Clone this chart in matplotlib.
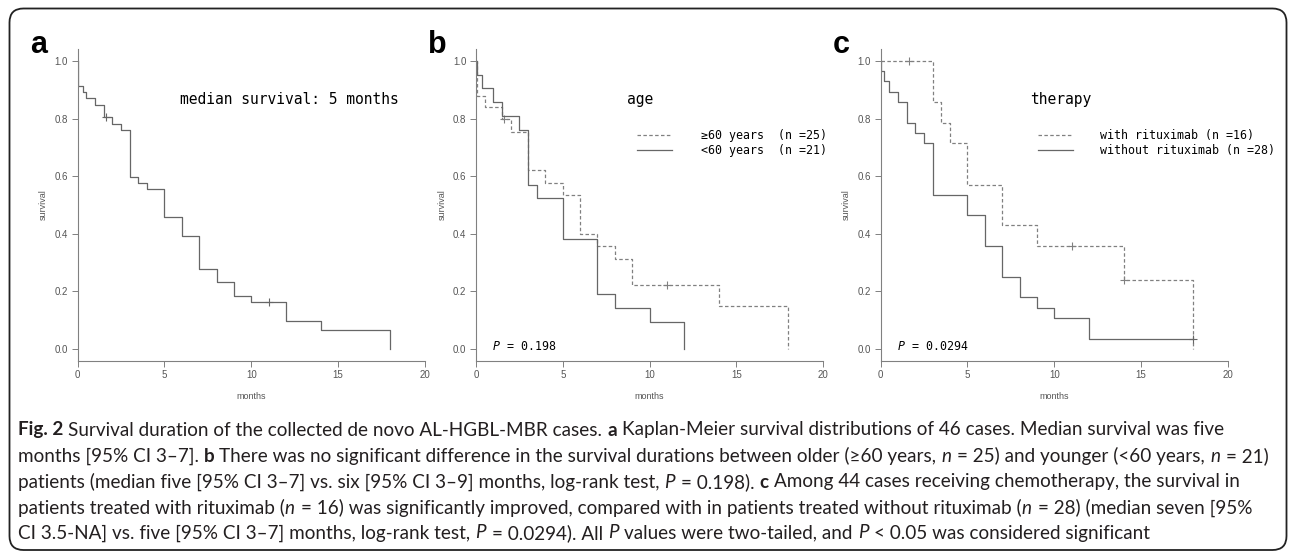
import numpy as np
import matplotlib.pyplot as plt
from matplotlib.patches import FancyBboxPatch

W, H = 1293, 553

# (a) all cases, n = 46
months_a = [0, 0.05, 0.3, 0.5, 1.0, 1.5, 2.0, 2.5, 3.0, 3.5, 4.0, 5.0, 6.0, 7.0, 8.0, 9.0, 10.0, 12.0, 14.0, 18.0]
surv_a = [1.0, 0.913, 0.891, 0.870, 0.848, 0.804, 0.783, 0.761, 0.598, 0.576, 0.554, 0.457, 0.391, 0.277, 0.231, 0.185, 0.162, 0.097, 0.065, 0.0]
cens_a = [1.63, 11.0]
end_a = 18.0

# (b) age >= 60 (dashed) and < 60 (solid)
months_old = [0, 0.05, 0.5, 1.5, 2.0, 3.0, 4.0, 5.0, 6.0, 7.0, 8.0, 9.0, 14.0, 18.0]
surv_old = [1.0, 0.88, 0.84, 0.80, 0.755, 0.62, 0.578, 0.533, 0.40, 0.356, 0.311, 0.222, 0.148, 0.0]
cens_old = [1.63, 11.0]
end_old = 18.0
months_young = [0, 0.05, 0.33, 1.0, 1.5, 2.5, 3.0, 3.5, 5.0, 7.0, 8.0, 10.0, 12.0]
surv_young = [1.0, 0.952, 0.905, 0.857, 0.810, 0.762, 0.571, 0.524, 0.381, 0.190, 0.143, 0.095, 0.0]
cens_young = []
end_young = 12.0

# (c) with rituximab (dashed) and without (solid)
months_rit = [0, 3.0, 3.5, 4.0, 5.0, 7.0, 9.0, 14.0, 18.0]
surv_rit = [1.0, 0.857, 0.786, 0.714, 0.571, 0.429, 0.357, 0.238, 0.0]
cens_rit = [1.65, 11.0, 14.0]
end_rit = 18.0
months_norit = [0, 0.04, 0.2, 0.5, 1.0, 1.5, 2.0, 2.5, 3.0, 5.0, 6.0, 7.0, 8.0, 9.0, 10.0, 12.0]
surv_norit = [1.0, 0.964, 0.929, 0.893, 0.857, 0.786, 0.750, 0.714, 0.536, 0.464, 0.357, 0.250, 0.179, 0.143, 0.107, 0.036]
cens_norit = [18.0]
end_norit = 18.0

x_ticks = [0, 5, 10, 15, 20]
y_ticks = [0.0, 0.2, 0.4, 0.6, 0.8, 1.0]

MONO = 'DejaVu Sans Mono'
SOLID = '#666666'
DASH = '#808080'
DASHES = (0, (2.8, 1.9))


def km(ax, t, s, end, cens, color, ls, label=None):
    t = np.r_[t, end]
    s = np.r_[s, s[-1]]
    ax.step(t, s, where='post', color=color, ls=ls, lw=0.9, label=label)
    if len(cens):
        idx = np.searchsorted(t, cens, side='right') - 1
        ax.plot(cens, s[idx], ls='none', marker='+', ms=6, mew=0.8, color=color)


def setup(ax, letter):
    ax.set_xlim(0, 20)
    ax.set_ylim(-0.04, 1.04)
    ax.set_xticks(x_ticks)
    ax.set_yticks(y_ticks)
    ax.yaxis.set_major_formatter('{x:.1f}')
    for sp in ['top', 'right']:
        ax.spines[sp].set_visible(False)
    for sp in ['left', 'bottom']:
        ax.spines[sp].set_color('#808080')
        ax.spines[sp].set_linewidth(0.8)
    ax.tick_params(length=4, width=0.7, color='#808080', labelsize=7,
                   labelcolor='#555555', pad=3)
    for lab in ax.get_xticklabels() + ax.get_yticklabels():
        lab.set_family('Liberation Sans')
    ax.text(-0.098, 0.5, 'survival', rotation=90, transform=ax.transAxes,
            ha='center', va='center', fontsize=6.5, color='#555555', family='Liberation Sans')
    ax.text(0.5, -0.117, 'months', transform=ax.transAxes,
            ha='center', va='center', fontsize=6.5, color='#555555', family='Liberation Sans')
    ax.text(-0.137, 0.989, letter, transform=ax.transAxes, ha='left', va='baseline',
            fontsize=22, fontweight='bold', family='Liberation Sans')


fig = plt.figure(figsize=(W / 100, H / 100), dpi=100)

bottom = (H - 360.5) / H
height = 311 / H
ax_a = fig.add_axes([77.5 / W, bottom, 347.5 / W, height])
ax_b = fig.add_axes([476 / W, bottom, 347 / W, height])
ax_c = fig.add_axes([880.5 / W, bottom, 347.5 / W, height])

# panel a
km(ax_a, months_a, surv_a, end_a, cens_a, SOLID, '-')
setup(ax_a, 'a')
ax_a.text(5.9, 0.868, 'median survival: 5 months', family=MONO, fontsize=10.5, va='center')

# panel b
km(ax_b, months_old, surv_old, end_old, cens_old, DASH, DASHES, label='\u226560 years  (n =25)')
km(ax_b, months_young, surv_young, end_young, cens_young, SOLID, '-', label='<60 years  (n =21)')
setup(ax_b, 'b')
ax_b.text(8.7, 0.865, 'age', family=MONO, fontsize=10.5, va='center')
ax_b.legend(loc='upper left', bbox_to_anchor=(0.464, 0.745), frameon=False,
            prop={'family': MONO, 'size': 8.4}, handlelength=3.0, handletextpad=2.5,
            labelspacing=0.2, borderpad=0, borderaxespad=0)

# panel c
km(ax_c, months_rit, surv_rit, end_rit, cens_rit, DASH, DASHES, label='with rituximab (n =16)')
km(ax_c, months_norit, surv_norit, end_norit, cens_norit, SOLID, '-', label='without rituximab (n =28)')
setup(ax_c, 'c')
ax_c.text(8.6, 0.865, 'therapy', family=MONO, fontsize=10.5, va='center')
ax_c.legend(loc='upper left', bbox_to_anchor=(0.453, 0.745), frameon=False,
            prop={'family': MONO, 'size': 8.4}, handlelength=3.0, handletextpad=2.3,
            labelspacing=0.2, borderpad=0, borderaxespad=0)

# P values
for ax, ptxt in [(ax_b, ' = 0.198'), (ax_c, ' = 0.0294')]:
    ax.text(0.98, 0.007, 'P', family=MONO, style='italic', fontsize=8.4, va='center')
    ax.annotate(ptxt, xy=(0.98, 0.007), xytext=(0.602 * 8.4, 0), textcoords='offset points',
                family=MONO, fontsize=8.4, va='center')

# caption
cap_lines = [
    [("Fig. 2", 'b'), (" Survival duration of the collected de novo AL-HGBL-MBR cases. ", 'n'), ("a", 'b'),
     (" Kaplan-Meier survival distributions of 46 cases. Median survival was five", 'n')],
    [("months [95% CI 3\u20137]. ", 'n'), ("b", 'b'),
     (" There was no significant difference in the survival durations between older (\u226560 years, ", 'n'),
     ("n", 'i'), (" = 25) and younger (<60 years, ", 'n'), ("n", 'i'), (" = 21)", 'n')],
    [("patients (median five [95% CI 3\u20137] vs. six [95% CI 3\u20139] months, log-rank test, ", 'n'), ("P", 'i'),
     (" = 0.198). ", 'n'), ("c", 'b'), (" Among 44 cases receiving chemotherapy, the survival in", 'n')],
    [("patients treated with rituximab (", 'n'), ("n", 'i'),
     (" = 16) was significantly improved, compared with in patients treated without rituximab (", 'n'),
     ("n", 'i'), (" = 28) (median seven [95%", 'n')],
    [("CI 3.5-NA] vs. five [95% CI 3\u20137] months, log-rank test, ", 'n'), ("P", 'i'),
     (" = 0.0294). All ", 'n'), ("P", 'i'), (" values were two-tailed, and ", 'n'), ("P", 'i'),
     (" < 0.05 was considered significant", 'n')],
]
cap_y = [430, 456, 482, 508, 533]
cap_end = [1216, 1278, 1235, 1270, 1131]  # right end of each caption line in the reference
CAP_FONT = ['Lato', 'DejaVu Sans']
renderer = fig.canvas.get_renderer()


def text_w(s, size, **kw):
    t = fig.text(0, 0, s, fontsize=size, family=CAP_FONT, **kw)
    w = t.get_window_extent(renderer).width
    t.remove()
    return w


def cap_line(parts, y, size, draw=True):
    sp = text_w('a a', size) - text_w('aa', size)
    x = 18
    for txt, st in parts:
        kw = {'fontweight': 'bold'} if st == 'b' else ({'style': 'italic'} if st == 'i' else {})
        core = txt.strip(' ')
        x += (len(txt) - len(txt.lstrip(' '))) * sp
        t = fig.text(x / W, 1 - y / H, core, fontsize=size, family=CAP_FONT, color='#231f20',
                     va='center', ha='left', **kw)
        x += t.get_window_extent(renderer).width
        if st == 'i':
            x += 0.25 * sp  # italic overhang
        if not draw:
            t.remove()
        x += (len(txt) - len(txt.rstrip(' '))) * sp
    return x


w10 = sum(cap_line(p, 0, 10, draw=False) - 18 for p in cap_lines)
cap_size = 10 * sum(e - 18 for e in cap_end) / w10
for parts, y in zip(cap_lines, cap_y):
    cap_line(parts, y, cap_size)

border = FancyBboxPatch((9.5, H - 550), 1277, 541.5, boxstyle='round,pad=0,rounding_size=14',
                        transform=None, fill=False, ec='#222222', lw=1.3)
fig.add_artist(border)

fig.savefig('out.png', dpi=100)
